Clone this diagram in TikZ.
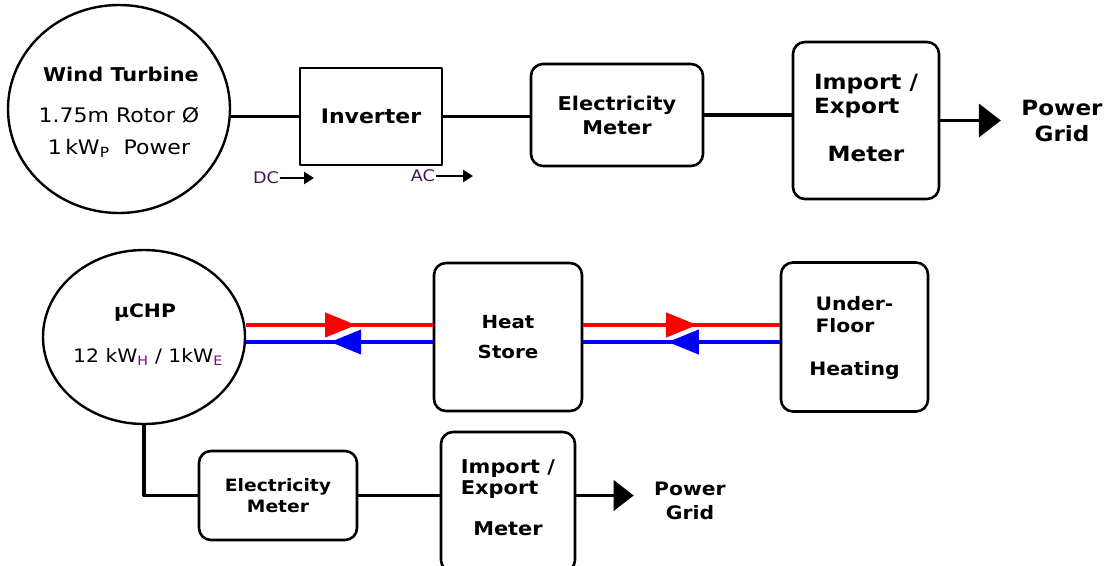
\documentclass[tikz,border=0pt]{standalone}
\usepackage{fontspec}
\setmainfont{DejaVu Sans}[FakeStretch=1.1]
\usetikzlibrary{arrows.meta,decorations.markings,shapes.geometric}
\definecolor{subpurple}{RGB}{128,0,128}
\definecolor{dcpurple}{RGB}{70,20,90}

\tikzset{
  blob/.style={ellipse, draw, line width=2.4pt, inner sep=0pt},
  box/.style={rectangle, draw, line width=2.6pt, align=center, inner sep=0pt,
    font=\bfseries\fontsize{19}{24}\selectfont},
  rbox/.style={box, rounded corners=12pt},
  wire/.style={line width=3.8pt},
  bigtip/.style={-{Triangle[length=22pt,width=33pt]}},
  smalltip/.style={line width=2.4pt, -{Triangle[length=10pt,width=12pt]}},
  hot/.style={draw=red, line width=4pt, postaction={decorate},
    decoration={markings, mark=at position #1 with {\arrow[red]{Triangle[length=31pt,width=24pt]}}}},
  cold/.style={draw=blue, line width=4pt, postaction={decorate},
    decoration={markings, mark=at position #1 with {\arrow[blue]{Triangle[length=31pt,width=24pt]}}}},
  title/.style={font=\bfseries\fontsize{19}{22}\selectfont},
  plain/.style={font=\fontsize{20}{22}\selectfont},
  gridtxt/.style={align=center, font=\bfseries\fontsize{21}{26}\selectfont},
  dctxt/.style={text=dcpurple, font=\fontsize{16}{18}\selectfont, inner sep=1pt}
}

\begin{document}
\begin{tikzpicture}[x=1pt, y=-1pt, line join=round]
\clip (0,0) rectangle (1105,565);

% wind turbine line
\node[blob, minimum width=222pt, minimum height=208pt] (turbine) at (119,109) {};
\node[title] (wtname) at (121,74) {Wind Turbine};
\node[plain] (wtrotor) at (119,115) {1.75m Rotor Ø};
\node[plain] (wtpower) at (119,148) {1\,kW\textsubscript{P}\ \ Power};

\node[box, minimum width=142pt, minimum height=97pt, font=\bfseries\fontsize{20}{22}\selectfont] (inv) at (371,116.5) {Inverter};
\node[rbox, minimum width=172pt, minimum height=102pt] (emeter) at (617,115) {Electricity\\Meter};
\node[rbox, minimum width=146pt, minimum height=157pt, text depth=6pt, font=\bfseries\fontsize{21}{24}\selectfont] (impexp) at (866,120.5)
  {\begin{tabular}[b]{@{}l@{}}Import /\\Export\end{tabular}\\[24pt]Meter};
\node[gridtxt] (grid) at (1062,121) {Power\\Grid};

\draw[wire] (inv.west -| turbine.east) -- (inv.west);
\draw[wire] (inv.east) -- (inv.east -| emeter.west);
\draw[wire] (emeter.east) -- (emeter.east -| impexp.west);
\draw[wire, bigtip, shorten >=17pt] (impexp.east) -- (impexp.east -| grid.west);

\node[dctxt] (dc) at (266,178) {DC};
\node[dctxt] (ac) at (423,176) {AC};
\coordinate (dctip) at (314,177);
\coordinate (actip) at (473,176);
\draw[smalltip] (dc.east) -- (dc.east -| dctip);
\draw[smalltip] (ac.east) -- (ac.east -| actip);

% micro CHP line
\node[blob, minimum width=202pt, minimum height=174pt] (chp) at (144,337) {};
\node[title, font=\bfseries\fontsize{18.5}{20}\selectfont] (chpname) at (145,313) {µCHP};
\node[plain, font=\fontsize{18.5}{20}\selectfont] (chprate) at (148,357)
  {12 kW\textsubscript{\color{subpurple}H} / 1kW\textsubscript{\color{subpurple}E}};

\node[rbox, minimum width=148pt, minimum height=148pt, font=\bfseries\fontsize{18}{22}\selectfont] (store) at (508,337) {Heat\\[8pt]Store};
\node[rbox, minimum width=147pt, minimum height=149pt, font=\bfseries\fontsize{18.5}{22}\selectfont] (floor) at (854.5,337)
  {\begin{tabular}[b]{@{}l@{}}Under-\\Floor\end{tabular}\\[21pt]Heating};

\draw[hot=0.59] ([yshift=12pt]chp.east) -- ([yshift=12pt]store.west);
\draw[cold=0.55] ([yshift=-5pt]store.west) -- ([yshift=-5pt]chp.east);
\draw[hot=0.58] ([yshift=12pt]store.east) -- ([yshift=12pt]floor.west);
\draw[cold=0.57] ([yshift=-5pt]floor.west) -- ([yshift=-5pt]store.east);

\node[rbox, minimum width=158pt, minimum height=89pt, font=\bfseries\fontsize{17}{21}\selectfont] (emeter2) at (278,495.5) {Electricity\\Meter};
\node[rbox, minimum width=134pt, minimum height=140pt, text depth=10pt, font=\bfseries\fontsize{19}{21}\selectfont] (impexp2) at (508,502)
  {\begin{tabular}[b]{@{}l@{}}Import /\\Export\end{tabular}\\[20pt]Meter};
\node[gridtxt, font=\bfseries\fontsize{18.5}{24}\selectfont] (grid2) at (690,501) {Power\\Grid};

\draw[wire] (chp.south) |- (emeter2.west);
\draw[wire] (emeter2.east) -- (emeter2.east -| impexp2.west);
\draw[wire, -{Triangle[length=20pt,width=30pt]}, shorten >=17pt] (emeter2.east -| impexp2.east) -- (emeter2.east -| grid2.west);
\end{tikzpicture}
\end{document}
